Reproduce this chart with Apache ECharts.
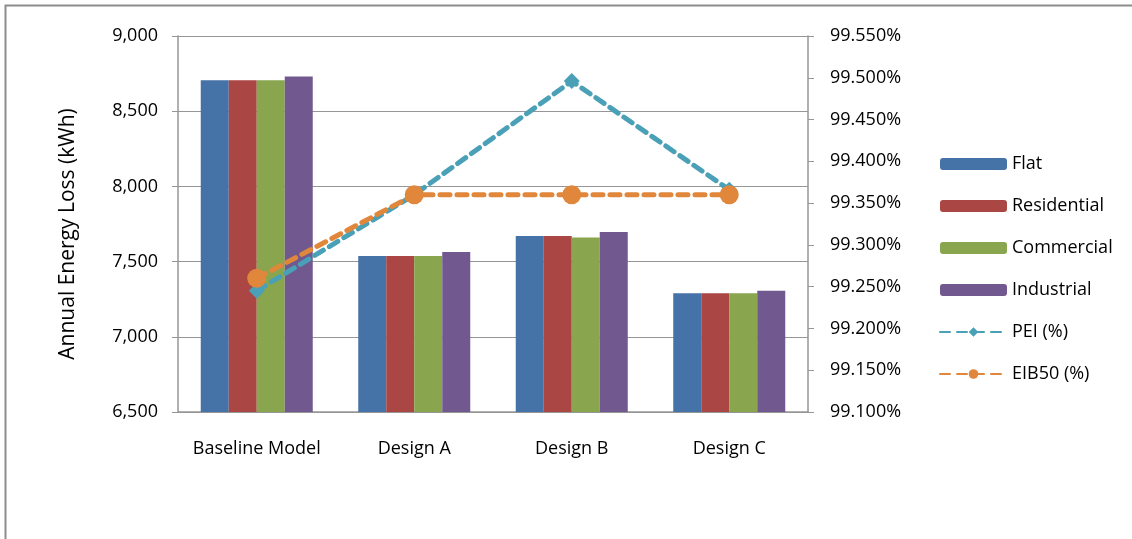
<!DOCTYPE html>
<html>
<head>
<meta charset="utf-8">
<script src="https://cdn.jsdelivr.net/npm/echarts@6/dist/echarts.min.js"></script>
<style>
  html, body { margin: 0; padding: 0; background: #fff; }
  #chart { width: 1132px; height: 539px; }
</style>
</head>
<body>
<div id="chart"></div>
<script>
// Categories and values
const categories = ['Baseline Model', 'Design A', 'Design B', 'Design C'];
const flat        = [8705, 7537, 7670, 7289];
const residential = [8705, 7537, 7670, 7289];
const commercial  = [8705, 7537, 7661, 7289];
const industrial  = [8730, 7564, 7697, 7307];
const pei   = [99.245, 99.360, 99.496, 99.366];
const eib50 = [99.260, 99.360, 99.360, 99.360];
const leftAxisTitle = 'Annual Energy Loss (kWh)';

const FONT = '"Open Sans", "Noto Sans", sans-serif';
const AXIS_GREY = '#969696';

const chart = echarts.init(document.getElementById('chart'), null, { renderer: 'canvas' });

function barSeries(name, data, color) {
  return {
    name: name,
    type: 'bar',
    data: data,
    barWidth: 28,
    barGap: '0%',
    itemStyle: { color: color },
    z: 2
  };
}

function lineSeries(name, data, color, symbol, size) {
  return {
    name: name,
    type: 'line',
    yAxisIndex: 1,
    data: data,
    symbol: symbol,
    symbolSize: size,
    lineStyle: { color: color, width: 5, type: [10, 7], cap: 'round' },
    itemStyle: { color: color },
    emphasis: { disabled: true },
    z: 5
  };
}

chart.setOption({
  animation: false,
  textStyle: { fontFamily: FONT },
  graphic: [{
    type: 'rect',
    shape: { x: 5.5, y: 5.5, width: 1200, height: 600 },
    style: { fill: 'none', stroke: '#8c8c8c', lineWidth: 2 },
    silent: true,
    z: -1
  }, {
    type: 'text',
    x: 68,
    y: 234,
    rotation: Math.PI / 2,
    style: {
      text: leftAxisTitle,
      fontSize: 21,
      fontFamily: FONT,
      fill: '#000',
      align: 'center',
      verticalAlign: 'middle'
    },
    silent: true
  }],
  grid: { left: 178, right: 324, top: 36, bottom: 127 },
  legend: {
    orient: 'vertical',
    left: 934,
    top: 150,
    itemWidth: 67,
    itemHeight: 12,
    itemGap: 24,
    textStyle: { fontSize: 18, color: '#000', fontFamily: FONT },
    data: ['Flat', 'Residential', 'Commercial', 'Industrial', 'PEI (%)', 'EIB50 (%)']
  },
  xAxis: {
    type: 'category',
    data: categories,
    axisLine: { lineStyle: { color: AXIS_GREY, width: 1.5 } },
    axisTick: { show: false },
    axisLabel: { color: '#000', fontSize: 18, margin: 28, interval: 0, fontFamily: FONT }
  },
  yAxis: [{
    type: 'value',
    min: 6500,
    max: 9000,
    interval: 500,
    axisLine: { show: true, lineStyle: { color: AXIS_GREY, width: 1.5 } },
    axisTick: { show: true, length: 6, lineStyle: { color: AXIS_GREY } },
    splitLine: { show: true, lineStyle: { color: AXIS_GREY, width: 1.2 } },
    axisLabel: {
      color: '#000', fontSize: 18, margin: 20, fontFamily: FONT,
      formatter: v => v.toLocaleString('en-US')
    }
  }, {
    type: 'value',
    min: 99.1,
    max: 99.55,
    interval: 0.05,
    position: 'right',
    axisLine: { show: true, lineStyle: { color: AXIS_GREY, width: 1.5 } },
    axisTick: { show: true, length: 6, lineStyle: { color: AXIS_GREY } },
    splitLine: { show: false },
    axisLabel: {
      color: '#000', fontSize: 18, margin: 22, fontFamily: FONT,
      formatter: v => v.toFixed(3) + '%'
    }
  }],
  series: [
    barSeries('Flat', flat, '#4572a7'),
    barSeries('Residential', residential, '#aa4643'),
    barSeries('Commercial', commercial, '#89a54e'),
    barSeries('Industrial', industrial, '#71588f'),
    lineSeries('PEI (%)', pei, '#4aa0b7', 'diamond', 16),
    lineSeries('EIB50 (%)', eib50, '#e0873c', 'circle', 19)
  ]
});
</script>
</body>
</html>
